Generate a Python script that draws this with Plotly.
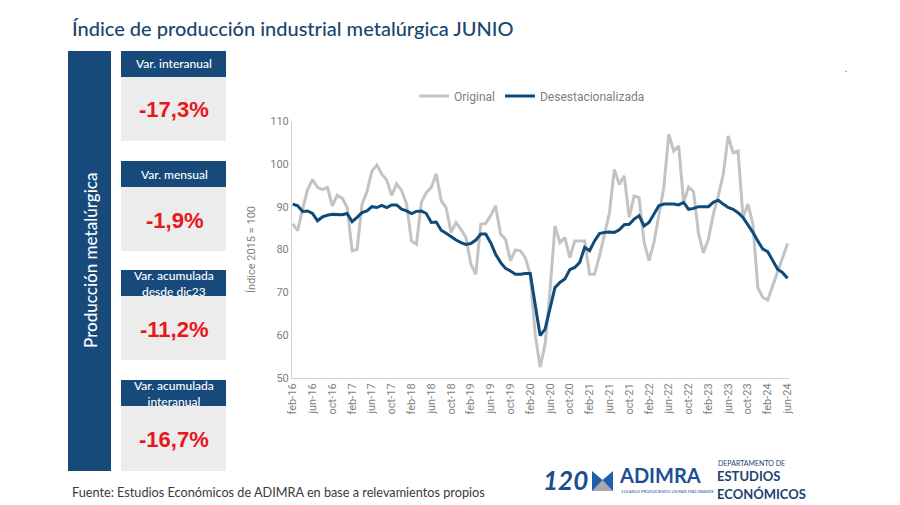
import plotly.graph_objects as go

# ---------------- data ----------------
months_es = ["ene", "feb", "mar", "abr", "may", "jun", "jul", "ago", "sep", "oct", "nov", "dic"]
periods = []
for y in range(2016, 2025):
    for m in range(12):
        if (y == 2016 and m < 1) or (y == 2024 and m > 5):
            continue
        periods.append(f"{months_es[m]}-{str(y)[2:]}")

original = [
    86.0, 84.4, 89.5, 94.0, 96.3, 94.5, 94.0, 94.5, 90.2, 92.7, 92.0,          # feb-16..dec-16
    89.8, 79.7, 80.0, 90.6, 93.5, 98.3, 99.7, 97.6, 96.2, 92.6, 95.3, 93.8,    # 2017
    90.6, 82.0, 81.2, 91.0, 93.3, 94.5, 97.7, 91.4, 89.8, 84.0, 86.3, 84.7,    # 2018
    82.8, 76.6, 74.2, 85.9, 86.1, 87.9, 90.2, 83.6, 82.4, 77.4, 79.9, 79.7,    # 2019
    78.1, 74.2, 60.3, 52.5, 57.9, 70.4, 85.5, 81.6, 82.8, 78.1, 82.0, 82.0,    # 2020
    82.0, 74.2, 74.2, 78.5, 83.5, 88.5, 98.7, 95.2, 97.2, 87.5, 92.5, 92.1,    # 2021
    81.8, 77.4, 81.6, 88.0, 94.5, 106.9, 103.0, 104.2, 91.0, 94.6, 93.5, 83.8, # 2022
    79.2, 82.4, 88.2, 92.5, 97.5, 106.5, 102.6, 103.0, 87.5, 90.6, 85.9, 71.1, # 2023
    68.8, 68.2, 71.5, 74.8, 78.1, 81.4,                                        # 2024
]

desestacionalizada = [
    90.6, 90.2, 88.9, 89.0, 88.4, 86.7, 87.6, 88.0, 88.2, 88.2, 88.1,
    88.4, 86.5, 87.5, 88.6, 89.0, 90.0, 89.8, 90.3, 89.8, 90.4, 90.4, 89.4,
    89.0, 88.4, 88.9, 89.0, 88.4, 86.3, 86.4, 84.5, 83.8, 82.9, 82.2, 81.6,
    81.2, 81.4, 82.2, 83.6, 83.6, 81.6, 78.9, 77.0, 75.6, 75.0, 74.2, 74.2,
    74.4, 74.4, 67.3, 59.9, 61.4, 66.5, 71.1, 72.3, 73.1, 75.3, 75.8, 77.0,
    80.5, 79.7, 82.0, 83.7, 84.0, 84.1, 84.0, 84.6, 85.8, 85.9, 87.1, 87.9,
    85.5, 86.3, 88.2, 90.2, 90.6, 90.6, 90.6, 90.4, 91.0, 89.4, 89.6, 90.0,
    90.0, 90.0, 91.0, 91.5, 90.6, 89.8, 89.4, 88.6, 87.5, 85.9, 84.0, 82.0,
    80.1, 79.5, 77.4, 75.4, 74.6, 73.3,
]

tick_labels = periods[::4]
y_ticks = [50, 60, 70, 80, 90, 100, 110]

kpi_headers = ["Var. interanual", "Var. mensual", "Var. acumulada<br>desde dic23", "Var. acumulada<br>interanual"]
kpi_values = ["-17,3%", "-1,9%", "-11,2%", "-16,7%"]

# ---------------- styling ----------------
W, H = 900, 505
PL, PR, PT, PB = 284, 781, 113, 370  # plot area in px
NAVY = "#174a7b"
LINE_BLUE = "#0f4a78"
GRAY_LINE = "#c3c3c3"
TXT_GRAY = "#808080"
RED = "#e8161d"


def xp(px):
    return (px - PL) / (PR - PL)


def yp(py):
    return (PB - py) / (PB - PT)


fig = go.Figure()
fig.add_trace(go.Scatter(x=periods, y=original, mode="lines", name="Original",
                         line=dict(color=GRAY_LINE, width=3)))
fig.add_trace(go.Scatter(x=periods, y=desestacionalizada, mode="lines", name="Desestacionalizada",
                         line=dict(color=LINE_BLUE, width=3)))

shapes = []
annotations = []

# left vertical bar
shapes.append(dict(type="rect", xref="paper", yref="paper", x0=xp(60), x1=xp(103), y0=yp(463), y1=yp(43),
                   fillcolor=NAVY, line=dict(width=0), layer="below"))
annotations.append(dict(xref="paper", yref="paper", x=xp(82), y=yp(253), text="Producción metalúrgica",
                        textangle=-90, showarrow=False, font=dict(family="Lato", size=17, color="white", weight=500),
                        xanchor="center", yanchor="middle"))

# KPI boxes
box_tops = [43, 153, 262, 372]
for i, top in enumerate(box_tops):
    hdr_bot = top + 26
    body_bot = hdr_bot + 64 if i < 3 else 463
    shapes.append(dict(type="rect", xref="paper", yref="paper", x0=xp(113), x1=xp(218), y0=yp(body_bot), y1=yp(hdr_bot),
                       fillcolor="#ececec", line=dict(width=0), layer="below"))
    shapes.append(dict(type="rect", xref="paper", yref="paper", x0=xp(113), x1=xp(218), y0=yp(hdr_bot), y1=yp(top),
                       fillcolor=NAVY, line=dict(width=0), layer="below"))
    annotations.append(dict(xref="paper", yref="paper", x=xp(166), y=yp(top + 13), text=kpi_headers[i],
                            showarrow=False, font=dict(family="Lato", size=12, color="white", weight=500),
                            xanchor="center", yanchor="middle", align="center"))
    annotations.append(dict(xref="paper", yref="paper", x=xp(166), y=yp((hdr_bot + body_bot) / 2 + 1), text=kpi_values[i],
                            showarrow=False, font=dict(family="Liberation Sans", size=22, color=RED, weight="bold"),
                            xanchor="center", yanchor="middle"))

# title
annotations.append(dict(xref="paper", yref="paper", x=xp(62), y=yp(20), text="Índice de producción industrial metalúrgica JUNIO",
                        showarrow=False, font=dict(family="Lato", size=20, color="#1b466e", weight=500),
                        xanchor="left", yanchor="middle"))
# footer
annotations.append(dict(xref="paper", yref="paper", x=xp(62), y=yp(484),
                        text="Fuente: Estudios Económicos de ADIMRA en base a relevamientos propios",
                        showarrow=False, font=dict(family="Lato", size=12.7, color="#3a3a3a"),
                        xanchor="left", yanchor="middle"))
# small mark at top right
annotations.append(dict(xref="paper", yref="paper", x=xp(838), y=yp(60), text=".",
                        showarrow=False, font=dict(family="Lato", size=9, color="#555555"),
                        xanchor="center", yanchor="middle"))

# logos (text approximations)
annotations.append(dict(xref="paper", yref="paper", x=xp(533), y=yp(472), text="<b><i>120</i></b>",
                        showarrow=False, font=dict(family="Lato", size=26, color="#1d4f8c"),
                        xanchor="left", yanchor="middle"))
shapes.append(dict(type="rect", xref="paper", yref="paper", x0=xp(584), x1=xp(605), y0=yp(483), y1=yp(463),
                   fillcolor="#1d5fa8", line=dict(width=0)))
shapes.append(dict(type="path", xref="paper", yref="paper",
                   path=f"M {xp(584)},{yp(483)} L {xp(594.5)},{yp(472)} L {xp(605)},{yp(483)} Z",
                   fillcolor="#a9a9a9", line=dict(width=0)))
shapes.append(dict(type="path", xref="paper", yref="paper",
                   path=f"M {xp(584)},{yp(463)} L {xp(594.5)},{yp(472)} L {xp(605)},{yp(463)} Z",
                   fillcolor="#ffffff", line=dict(width=0)))
annotations.append(dict(xref="paper", yref="paper", x=xp(609), y=yp(467), text="<b>ADIMRA</b>",
                        showarrow=False, font=dict(family="Lato", size=20, color="#1d4f96"),
                        xanchor="left", yanchor="middle"))
annotations.append(dict(xref="paper", yref="paper", x=xp(611), y=yp(483), text="120 AÑOS PRODUCIENDO UN PAÍS MÁS GRANDE",
                        showarrow=False, font=dict(family="Lato", size=4, color="#1d4f96"),
                        xanchor="left", yanchor="middle"))
annotations.append(dict(xref="paper", yref="paper", x=xp(708), y=yp(455), text="DEPARTAMENTO DE",
                        showarrow=False, font=dict(family="Lato", size=7, color="#1f3f73"),
                        xanchor="left", yanchor="middle"))
annotations.append(dict(xref="paper", yref="paper", x=xp(707), y=yp(468), text="<b>ESTUDIOS</b>",
                        showarrow=False, font=dict(family="Lato", size=13, color="#1f3f73"),
                        xanchor="left", yanchor="middle"))
annotations.append(dict(xref="paper", yref="paper", x=xp(707), y=yp(486), text="<b>ECONÓMICOS</b>",
                        showarrow=False, font=dict(family="Lato", size=13, color="#1f3f73"),
                        xanchor="left", yanchor="middle"))

fig.update_layout(
    width=W, height=H,
    paper_bgcolor="white", plot_bgcolor="white",
    margin=dict(l=PL, r=W - PR, t=PT, b=H - PB, autoexpand=False),
    showlegend=True,
    legend=dict(orientation="h", x=xp(524), y=yp(88), xanchor="center", yanchor="middle",
                font=dict(family="Roboto", size=12, color=TXT_GRAY), bgcolor="rgba(0,0,0,0)",
                itemwidth=30),
    shapes=shapes,
    annotations=annotations,
    font=dict(family="Roboto", color=TXT_GRAY),
)
fig.update_xaxes(
    type="category", tickmode="array", tickvals=tick_labels, ticktext=tick_labels,
    tickangle=-90, range=[-0.15, 100.3], showgrid=False, zeroline=False,
    showline=True, linecolor="#d0d0d0", linewidth=1, ticks="",
    tickfont=dict(family="Roboto", size=11, color=TXT_GRAY), automargin=False,
)
fig.update_yaxes(
    range=[50, 110], tickvals=y_ticks, showgrid=False, zeroline=False,
    showline=True, linecolor="#d0d0d0", linewidth=1, ticks="",
    tickfont=dict(family="Roboto", size=11, color=TXT_GRAY), automargin=False,
    title=dict(text="Índice 2015 = 100", font=dict(family="Roboto", size=11, color=TXT_GRAY), standoff=12),
)

fig.write_html("out.html")
